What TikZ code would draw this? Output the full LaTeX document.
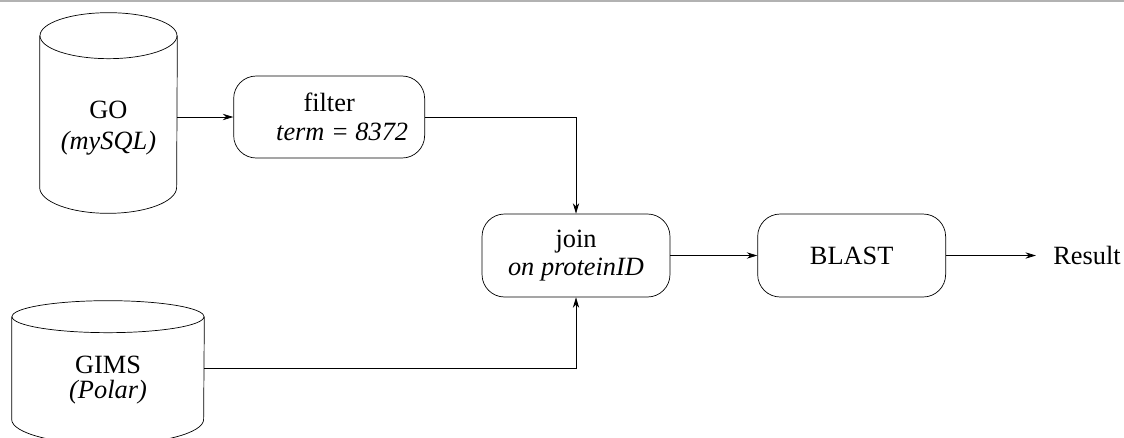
\documentclass[tikz,border=0pt]{standalone}
\usepackage{fontspec}
\setmainfont{Liberation Serif}
\usetikzlibrary{positioning}
\usetikzlibrary{arrows.meta}

% database drum round a body node: name, x radius, top y radius, bottom y radius
\newcommand{\drum}[4]{%
  \draw (#1.north) ellipse [x radius=#2, y radius=#3];
  \draw (#1.north west) -- (#1.south west)
    arc [start angle=180, end angle=360, x radius=#2, y radius=#4]
    -- (#1.north east);
}

\begin{document}
\begin{tikzpicture}
        [x=0.02cm, y=-0.02cm,
         every node/.style={font=\fontsize{15}{16}\selectfont},
         op/.style={draw, rounded corners=0.45cm, minimum width=3.76cm,
                    minimum height=1.66cm, align=center, inner sep=0pt},
         body/.style={inner sep=0pt},
         >={Stealth[length=6pt,width=3.6pt]}]
        \useasboundingbox (0,0) rectangle (1124,437);
        \draw[black!30, line width=0.04cm] (0,1) -- (1124,1);

        \node[body, minimum width=2.74cm, minimum height=3.02cm] (go) at (108.5,111.5) {};
        \node[body, minimum width=3.84cm, minimum height=2.04cm] (gims) at (108,368) {};
        \drum{go}{1.37cm}{0.46cm}{0.52cm}
        \drum{gims}{1.92cm}{0.32cm}{0.5cm}
        \node[align=center] (golbl) at ([yshift=-0.33cm]go.center) {GO\\[1.6pt]\textit{(mySQL)}};
        \node[align=center] (gimslbl) at ([yshift=-0.25cm]gims.center) {GIMS\\[-1.8pt]\textit{(Polar)}};

        \node[op, minimum width=3.82cm, minimum height=1.64cm, yshift=-0.11cm]
             (filter) [right=1.12cm of go] {filter\\[0.5pt]\hspace*{14.8pt}\textit{term = 8372}};
        \node[op]  (join) at (576,255.5) {join\\\textit{on proteinID}};
        \node[op]  (blast) [right=1.74cm of join] {BLAST};
        \node[inner sep=0pt, inner xsep=0.34cm]  (res) [right=1.8cm of blast] {Result};

        \draw [->] (go.east |- filter) -- (filter);
        \draw [->] (filter) -| (join);
        \draw [->] (gims) -| (join);
        \draw [->] (join) -- (blast);
        \draw [->] (blast) -- (res);
       \end{tikzpicture}
\end{document}
